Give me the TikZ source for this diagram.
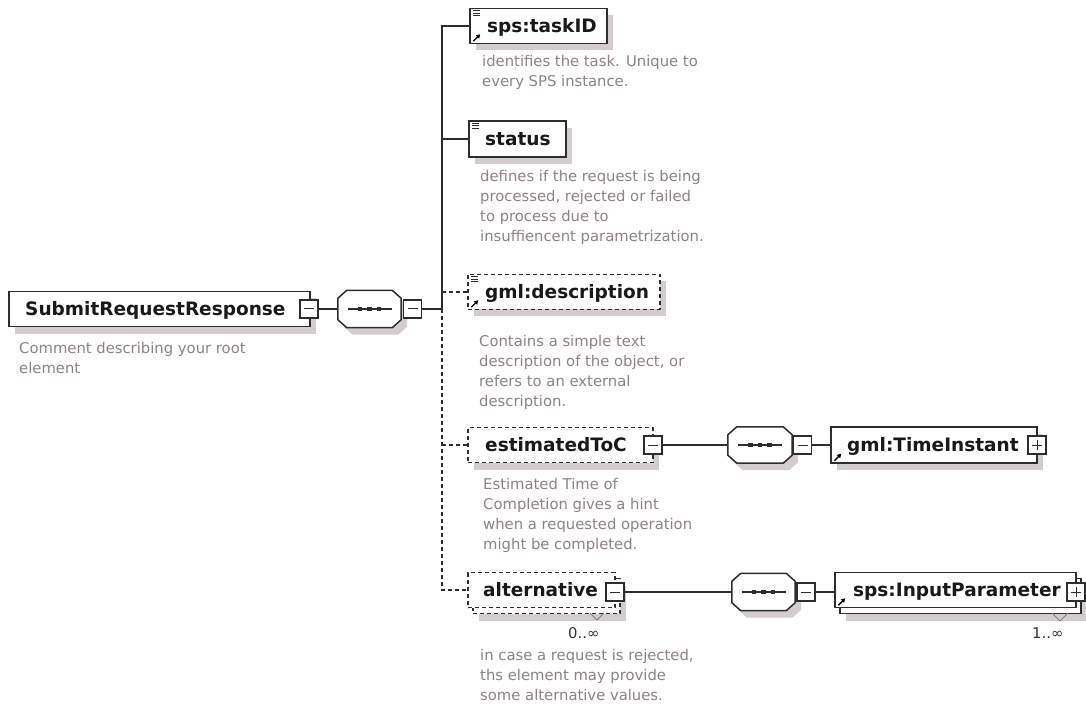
\documentclass[tikz,border=0pt]{standalone}
\usepackage{fontspec}
\setmainfont{DejaVu Sans}
\usetikzlibrary{shadows,arrows.meta}

\definecolor{boxline}{RGB}{45,45,45}
\definecolor{shadowgray}{RGB}{211,205,205}
\definecolor{notegray}{RGB}{143,130,130}

\tikzset{
  elem/.style={draw=boxline, line width=1.5pt, fill=white, rectangle, inner sep=0pt,
    minimum height=35pt,
    drop shadow={shadow xshift=6pt, shadow yshift=-7pt, fill=shadowgray, opacity=1}},
  optelem/.style={elem, dash pattern=on 4pt off 3pt},
  backelem/.style={draw=boxline, line width=1.5pt, fill=white, rectangle, inner sep=0pt,
    minimum height=35pt},
  % sequence compositor: octagon with the three dots
  seqbox/.style={rectangle, inner sep=0pt, minimum width=63pt, minimum height=37pt,
    append after command={\pgfextra{
      \draw[draw=boxline, line width=1.5pt, fill=white,
        drop shadow={shadow xshift=6pt, shadow yshift=-7pt, fill=shadowgray, opacity=1}]
        ([xshift=9pt]\tikzlastnode.north west) -- ([xshift=-9pt]\tikzlastnode.north east)
        -- ([yshift=-8pt]\tikzlastnode.north east) -- ([yshift=8pt]\tikzlastnode.south east)
        -- ([xshift=-9pt]\tikzlastnode.south east) -- ([xshift=9pt]\tikzlastnode.south west)
        -- ([yshift=8pt]\tikzlastnode.south west) -- ([yshift=-8pt]\tikzlastnode.north west)
        -- cycle;
      \draw[boxline, line width=1.3pt] ([xshift=-22pt]\tikzlastnode.center)
        -- ([xshift=22pt]\tikzlastnode.center);
      \fill[boxline] ([xshift=-9.5pt]\tikzlastnode.center) +(-2.3pt,-2.3pt) rectangle +(2.3pt,2.3pt);
      \fill[boxline] (\tikzlastnode.center) +(-2.3pt,-2.3pt) rectangle +(2.3pt,2.3pt);
      \fill[boxline] ([xshift=9.5pt]\tikzlastnode.center) +(-2.3pt,-2.3pt) rectangle +(2.3pt,2.3pt);}}},
  minusbox/.style={draw=boxline, line width=1.2pt, fill=white, rectangle, inner sep=0pt,
    minimum size=18pt,
    path picture={\draw[boxline, line width=1pt] ([xshift=-5pt]path picture bounding box.center)
      -- ([xshift=5pt]path picture bounding box.center);}},
  plusbox/.style={minusbox,
    path picture={\draw[boxline, line width=1pt] ([xshift=-5pt]path picture bounding box.center)
      -- ([xshift=5pt]path picture bounding box.center)
      ([yshift=-5pt]path picture bounding box.center)
      -- ([yshift=5pt]path picture bounding box.center);}},
  lbl/.style={anchor=base west, inner sep=0pt, text=black!90,
    font=\fontsize{18.5}{22}\selectfont\bfseries},
  note/.style={anchor=north west, inner sep=0pt, align=left, text=notegray,
    font=\fontsize{14.8}{20}\selectfont, execute at begin node=\rule{0pt}{14pt}},
  occurs/.style={anchor=base west, inner sep=0pt, text=black!80,
    font=\fontsize{14.8}{20}\selectfont},
  conn/.style={draw=boxline, line width=1.3pt},
  optconn/.style={conn, dash pattern=on 4pt off 3pt},
  icon/.style={draw=boxline, line width=0.9pt},
  refarrow/.style={draw=black, line width=1.4pt, -{Triangle[length=4pt,width=4.5pt]}},
  notch/.style={draw=gray, line width=1pt}
}

\begin{document}
\begin{tikzpicture}[x=1pt,y=-1pt]
\useasboundingbox (0,0) rectangle (1086,708);

% root element and its sequence
\node[elem, minimum width=301pt] (root) at (159.5,309) {};
\node[lbl] (rootlbl) at (25,315.5) {SubmitRequestResponse};
\node[minusbox] (rootexp) at (309,309) {};
\node[note] (rootnote) at (19,342) {Comment describing your root\\element};

\node[seqbox] (rootseq) at (369.5,309) {};
\node[minusbox] (rootseqexp) at (412.5,309) {};
\coordinate (fork) at (442,309);

% sps:taskID
\node[elem, minimum width=137pt] (taskid) at (538.5,26) {};
\node[lbl] (taskidlbl) at (487,32.5) {sps:taskID};
\draw[icon] ([shift={(4,3)}]taskid.north west) -- +(7,0)
  ([shift={(4,5.5)}]taskid.north west) -- +(7,0)
  ([shift={(4,8)}]taskid.north west) -- +(7,0);
\draw[refarrow] ([shift={(4,-3)}]taskid.south west) -- +(7,-7);
\node[note] (taskidnote) at (482,55) {identifies the task. Unique to\\every SPS instance.};

% status
\node[elem, minimum width=97pt, minimum height=36pt] (status) at (517.5,139) {};
\node[lbl] (statuslbl) at (485,145.5) {status};
\draw[icon] ([shift={(4,3)}]status.north west) -- +(7,0)
  ([shift={(4,5.5)}]status.north west) -- +(7,0)
  ([shift={(4,8)}]status.north west) -- +(7,0);
\node[note] (statusnote) at (480,170) {defines if the request is being\\processed, rejected or failed\\to process due to\\insuffiencent parametrization.};

% gml:description
\node[optelem, minimum width=192pt] (desc) at (564,292) {};
\node[lbl] (desclbl) at (485,298.5) {gml:description};
\draw[icon] ([shift={(4,3)}]desc.north west) -- +(7,0)
  ([shift={(4,5.5)}]desc.north west) -- +(7,0)
  ([shift={(4,8)}]desc.north west) -- +(7,0);
\draw[refarrow] ([shift={(4,-3)}]desc.south west) -- +(7,-7);
\node[note] (descnote) at (479,335) {Contains a simple text\\description of the object, or\\refers to an external\\description.};

% estimatedToC
\node[optelem, minimum width=185pt] (toc) at (560.5,445) {};
\node[lbl] (toclbl) at (485,451.5) {estimatedToC};
\node[minusbox] (tocexp) at (653,445) {};
\node[note] (tocnote) at (483,478) {Estimated Time of\\Completion gives a hint\\when a requested operation\\might be completed.};

\node[seqbox, minimum width=64pt, minimum height=36pt] (tocseq) at (760,445) {};
\node[minusbox] (tocseqexp) at (802.5,445) {};

\node[elem, minimum width=206pt, minimum height=36pt] (timeinst) at (934,445) {};
\node[lbl] (timeinstlbl) at (847,451.5) {gml:TimeInstant};
\draw[refarrow] ([shift={(4,-3)}]timeinst.south west) -- +(7,-7);
\node[plusbox] (timeinstexp) at (1037,445) {};

% alternative (0..unbounded)
\node[optelem, minimum width=147pt] (altback) at (546.5,596) {};
\node[backelem, dash pattern=on 4pt off 3pt, minimum width=147pt] (alt) at (541.5,590) {};
\node[lbl] (altlbl) at (483,596.5) {alternative};
\node[minusbox] (altexp) at (615,592) {};
\draw[notch] (590,613) -- (597,620) -- (604,613);
\node[occurs] (altocc) at (568,638) {0..∞};
\node[note] (altnote) at (480,649) {in case a request is rejected,\\ths element may provide\\some alternative values.};

\node[seqbox] (altseq) at (763.5,592) {};
\node[minusbox] (altseqexp) at (806,592) {};

\node[elem, minimum width=241pt] (inparamback) at (960.5,596) {};
\node[backelem, minimum width=241pt] (inparam) at (955.5,590) {};
\node[lbl] (inparamlbl) at (853,596.5) {sps:InputParameter};
\draw[refarrow] ([shift={(4,-3)}]inparam.south west) -- +(7,-7);
\node[plusbox] (inparamexp) at (1076,592) {};
\draw[notch] (1052,613) -- (1060,621) -- (1068,613);
\node[occurs] (inparamocc) at (1032,638) {1..∞};

% connectors
\draw[conn] (rootexp.east) -- (rootseq.west);
\draw[conn] (rootseqexp.east) -- (fork);
\draw[conn] (taskid.west) -| (fork);
\draw[conn] (status.west) -- (status.west -| fork);
\draw[optconn] (desc.west) -- (desc.west -| fork);
\draw[optconn] (toc.west) -- (toc.west -| fork);
\draw[optconn] (fork) |- (alt.west);
\draw[conn] (tocexp.east) -- (tocseq.west);
\draw[conn] (tocseqexp.east) -- (timeinst.west);
\draw[conn] (altexp.east) -- (altseq.west);
\draw[conn] (altseqexp.east) -- (altseqexp.east -| inparam.west);

\end{tikzpicture}
\end{document}
